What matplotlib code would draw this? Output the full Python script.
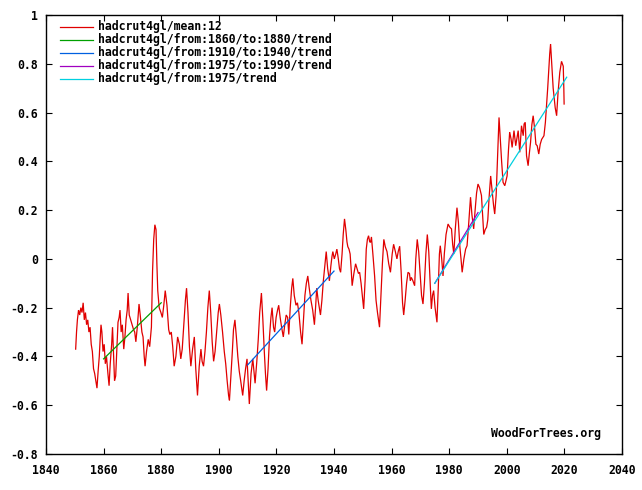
import matplotlib
matplotlib.use("Agg")
import matplotlib.pyplot as plt
from matplotlib.lines import Line2D

# ---- data ----
mean_years = [
    1850.3, 1850.6, 1850.9, 1851.3, 1851.7, 1852.1, 1852.5, 1852.9, 1853.3, 1853.7,
    1854.1, 1854.5, 1854.9, 1855.3, 1855.7, 1856.1, 1856.5, 1856.9, 1857.3, 1857.7,
    1858.1, 1858.5, 1858.8, 1859.1, 1859.4, 1859.8, 1860.2, 1860.6, 1861.0, 1861.5,
    1861.9, 1862.3, 1862.8, 1863.1, 1863.5, 1863.8, 1864.2, 1864.6, 1865.0, 1865.4,
    1865.7, 1866.1, 1866.5, 1867.0, 1867.4, 1867.8, 1868.2, 1868.5, 1868.9, 1869.4,
    1869.9, 1870.4, 1870.8, 1871.2, 1871.7, 1872.3, 1872.8, 1873.3, 1873.7, 1874.1,
    1874.4, 1874.9, 1875.5, 1876.0, 1876.6, 1877.0, 1877.4, 1877.8, 1878.2, 1878.5,
    1878.8, 1879.3, 1879.9, 1880.4, 1880.9, 1881.4, 1882.0, 1882.6, 1883.0, 1883.5,
    1884.0, 1884.5, 1885.1, 1885.7, 1886.3, 1886.8, 1887.3, 1887.8, 1888.4, 1888.8,
    1889.3, 1889.8, 1890.3, 1890.9, 1891.5, 1892.0, 1892.6, 1893.2, 1893.8, 1894.2,
    1894.7, 1895.2, 1895.7, 1896.2, 1896.7, 1897.2, 1897.7, 1898.2, 1898.7, 1899.3,
    1899.8, 1900.2, 1900.7, 1901.3, 1901.9, 1902.4, 1902.9, 1903.4, 1903.7, 1904.2,
    1904.7, 1905.1, 1905.6, 1906.1, 1906.6, 1907.1, 1907.6, 1908.3, 1908.8, 1909.3,
    1909.8, 1910.2, 1910.6, 1911.2, 1911.8, 1912.2, 1912.6, 1913.2, 1913.7, 1914.2,
    1914.8, 1915.3, 1915.8, 1916.2, 1916.6, 1917.1, 1917.6, 1918.1, 1918.5, 1919.0,
    1919.4, 1919.9, 1920.4, 1920.8, 1921.3, 1921.8, 1922.4, 1922.9, 1923.4, 1923.9,
    1924.3, 1924.8, 1925.3, 1925.7, 1926.2, 1926.8, 1927.3, 1927.8, 1928.4, 1928.9,
    1929.4, 1929.9, 1930.4, 1930.9, 1931.4, 1932.0, 1932.6, 1933.2, 1933.6, 1934.0,
    1934.5, 1934.9, 1935.3, 1935.8, 1936.3, 1936.8, 1937.3, 1937.8, 1938.4, 1938.9,
    1939.3, 1939.6, 1940.1, 1940.6, 1941.0, 1941.5, 1941.9, 1942.3, 1942.8, 1943.2,
    1943.65, 1944.1, 1944.5, 1944.8, 1945.2, 1945.6, 1946.0, 1946.3, 1946.9, 1947.5,
    1948.0, 1948.5, 1948.9, 1949.4, 1949.9, 1950.3, 1950.8, 1951.2, 1951.6, 1952.0,
    1952.4, 1952.7, 1953.0, 1953.5, 1954.1, 1954.6, 1955.1, 1955.8, 1956.3, 1956.8,
    1957.3, 1957.8, 1958.4, 1959.0, 1959.6, 1960.2, 1960.7, 1961.3, 1961.85, 1962.3,
    1962.8, 1963.3, 1963.8, 1964.2, 1964.7, 1965.2, 1965.7, 1966.2, 1966.5, 1966.85,
    1967.4, 1968.0, 1968.4, 1968.9, 1969.4, 1969.9, 1970.4, 1970.9, 1971.4, 1971.9,
    1972.4, 1972.9, 1973.4, 1973.8, 1974.2, 1974.6, 1975.1, 1975.75, 1976.2, 1976.6,
    1976.9, 1977.4, 1977.85, 1978.3, 1978.9, 1979.6, 1980.2, 1980.8, 1981.2, 1981.6,
    1982.1, 1982.7, 1983.2, 1983.7, 1984.1, 1984.5, 1985.1, 1985.7, 1986.2, 1986.8,
    1987.4, 1987.9, 1988.5, 1989.0, 1989.5, 1990.0, 1990.6, 1991.2, 1991.6, 1992.0,
    1992.5, 1993.0, 1993.4, 1993.9, 1994.4, 1994.9, 1995.4, 1995.8, 1996.3, 1996.8,
    1997.3, 1997.7, 1998.2, 1998.7, 1999.3, 2000.1, 2000.6, 2001.0, 2001.5, 2001.85,
    2002.5, 2003.1, 2003.6, 2003.95, 2004.5, 2005.1, 2005.7, 2006.0, 2006.4, 2006.85,
    2007.4, 2007.8, 2008.25, 2008.7, 2009.15, 2009.7, 2010.1, 2010.55, 2011.1, 2011.6,
    2012.1, 2012.9, 2013.4, 2013.8, 2014.2, 2014.6, 2014.9, 2015.2, 2015.5, 2015.75,
    2016.1, 2016.35, 2016.8, 2017.3, 2017.8, 2018.4, 2019.0, 2019.6, 2019.8, 2019.9,
]
mean_values = [
    -0.37, -0.30, -0.25, -0.21, -0.23, -0.20, -0.22, -0.18, -0.25, -0.22,
    -0.27, -0.25, -0.30, -0.28, -0.35, -0.38, -0.45, -0.47, -0.50, -0.53,
    -0.46, -0.40, -0.33, -0.27, -0.30, -0.38, -0.35, -0.43, -0.40, -0.47,
    -0.52, -0.43, -0.35, -0.28, -0.41, -0.50, -0.48, -0.37, -0.26, -0.24,
    -0.21, -0.30, -0.27, -0.37, -0.32, -0.25, -0.21, -0.14, -0.23, -0.25,
    -0.27, -0.29, -0.30, -0.34, -0.28, -0.185, -0.24, -0.30, -0.32, -0.40,
    -0.44, -0.38, -0.33, -0.36, -0.28, -0.05, 0.08, 0.14, 0.12, -0.02,
    -0.13, -0.20, -0.22, -0.24, -0.19, -0.13, -0.19, -0.29, -0.31, -0.30,
    -0.36, -0.44, -0.40, -0.32, -0.35, -0.41, -0.37, -0.28, -0.17, -0.12,
    -0.22, -0.36, -0.44, -0.37, -0.32, -0.45, -0.56, -0.44, -0.37, -0.42,
    -0.44, -0.38, -0.30, -0.20, -0.13, -0.22, -0.34, -0.42, -0.38, -0.29,
    -0.22, -0.185, -0.23, -0.30, -0.38, -0.43, -0.50, -0.56, -0.58, -0.48,
    -0.38, -0.29, -0.25, -0.32, -0.40, -0.46, -0.50, -0.56, -0.50, -0.45,
    -0.41, -0.50, -0.595, -0.47, -0.41, -0.46, -0.51, -0.42, -0.33, -0.22,
    -0.14, -0.25, -0.38, -0.47, -0.54, -0.45, -0.32, -0.24, -0.20, -0.28,
    -0.30, -0.24, -0.21, -0.19, -0.24, -0.28, -0.32, -0.27, -0.23, -0.24,
    -0.31, -0.20, -0.12, -0.08, -0.15, -0.19, -0.18, -0.22, -0.30, -0.35,
    -0.25, -0.15, -0.10, -0.07, -0.12, -0.17, -0.21, -0.27, -0.20, -0.12,
    -0.17, -0.20, -0.23, -0.17, -0.09, -0.03, 0.03, -0.04, -0.09, -0.03,
    0.01, 0.03, 0.00, 0.02, 0.04, 0.00, -0.04, -0.055, 0.02, 0.10,
    0.164, 0.12, 0.07, 0.05, 0.04, 0.02, -0.05, -0.11, -0.06, -0.02,
    -0.04, -0.06, -0.055, -0.10, -0.16, -0.205, -0.09, 0.04, 0.08, 0.095,
    0.07, 0.068, 0.09, 0.02, -0.07, -0.17, -0.22, -0.28, -0.15, -0.02,
    0.08, 0.05, 0.03, -0.02, -0.055, 0.02, 0.06, 0.03, 0.00, 0.03,
    0.052, -0.05, -0.18, -0.23, -0.17, -0.10, -0.055, -0.06, -0.09, -0.076,
    -0.09, -0.11, 0.00, 0.08, 0.03, -0.06, -0.15, -0.185, -0.10, 0.02,
    0.10, 0.03, -0.10, -0.205, -0.15, -0.13, -0.20, -0.26, -0.12, 0.02,
    0.054, 0.00, -0.07, 0.02, 0.10, 0.143, 0.13, 0.123, 0.06, 0.02,
    0.12, 0.21, 0.15, 0.05, 0.00, -0.055, 0.00, 0.04, 0.054, 0.15,
    0.253, 0.18, 0.123, 0.20, 0.27, 0.307, 0.29, 0.26, 0.18, 0.10,
    0.12, 0.13, 0.16, 0.26, 0.34, 0.28, 0.22, 0.184, 0.26, 0.42,
    0.58, 0.50, 0.40, 0.314, 0.30, 0.34, 0.45, 0.52, 0.49, 0.457,
    0.526, 0.464, 0.50, 0.526, 0.437, 0.546, 0.505, 0.553, 0.56, 0.423,
    0.382, 0.43, 0.478, 0.55, 0.587, 0.53, 0.47, 0.464, 0.43, 0.47,
    0.49, 0.505, 0.56, 0.628, 0.70, 0.78, 0.84, 0.881, 0.82, 0.765,
    0.70, 0.67, 0.62, 0.587, 0.683, 0.765, 0.81, 0.79, 0.70, 0.635,
]

trend_1860_1880_years = [1860, 1880]
trend_1860_1880_values = [-0.41, -0.18]
trend_1910_1940_years = [1910, 1940]
trend_1910_1940_values = [-0.435, -0.05]
trend_1975_1990_years = [1975, 1990]
trend_1975_1990_values = [-0.10, 0.19]
trend_1975_years = [1975, 2020.8]
trend_1975_values = [-0.10, 0.745]

series_labels = [
    "hadcrut4gl/mean:12",
    "hadcrut4gl/from:1860/to:1880/trend",
    "hadcrut4gl/from:1910/to:1940/trend",
    "hadcrut4gl/from:1975/to:1990/trend",
    "hadcrut4gl/from:1975/trend",
]
series_colors = ["#e00000", "#00a000", "#0060e0", "#a000c0", "#00d0e0"]

x_ticks = list(range(1840, 2041, 20))
y_ticks = [-0.8, -0.6, -0.4, -0.2, 0, 0.2, 0.4, 0.6, 0.8, 1]
y_tick_labels = ["-0.8", "-0.6", "-0.4", "-0.2", "0", "0.2", "0.4", "0.6", "0.8", "1"]

# ---- figure ----
W, H = 642, 490
fig = plt.figure(figsize=(W / 100, H / 100), dpi=100)
fig.patch.set_facecolor("white")
L, R, T, B = 46, 622, 15, 454
ax = fig.add_axes([L / W, 1 - B / H, (R - L) / W, (B - T) / H])

font = dict(family="DejaVu Sans Mono", weight="bold", size=8.3)

series = [
    (mean_years, mean_values),
    (trend_1860_1880_years, trend_1860_1880_values),
    (trend_1910_1940_years, trend_1910_1940_values),
    (trend_1975_1990_years, trend_1975_1990_values),
    (trend_1975_years, trend_1975_values),
]
for (xs, ys), c in zip(series, series_colors):
    ax.plot(xs, ys, color=c, lw=0.9, solid_joinstyle="miter")

ax.set_xlim(1840, 2040)
ax.set_ylim(-0.8, 1)
ax.set_xticks(x_ticks)
ax.set_xticklabels([str(t) for t in x_ticks], fontdict=font)
ax.set_yticks(y_ticks)
ax.set_yticklabels(y_tick_labels, fontdict=font)
ax.tick_params(direction="in", length=4, width=0.8, top=True, right=True,
               colors="black")
ax.tick_params(axis="x", pad=7)
ax.tick_params(axis="y", pad=6)
for s in ax.spines.values():
    s.set_linewidth(1.0)
    s.set_color("black")

# legend (manual, gnuplot style)
for i, (lab, c) in enumerate(zip(series_labels, series_colors)):
    yp = 26.7 + 13.0 * i
    fig.add_artist(Line2D([60 / W, 93 / W], [1 - yp / H, 1 - yp / H],
                          color=c, lw=0.9, transform=fig.transFigure))
    fig.text(98 / W, 1 - yp / H, lab, ha="left", va="center", **font)

fig.text(601 / W, 1 - 433 / H, "WoodForTrees.org", ha="right", va="center", **font)

fig.savefig("out.png", dpi=100, facecolor="white")
